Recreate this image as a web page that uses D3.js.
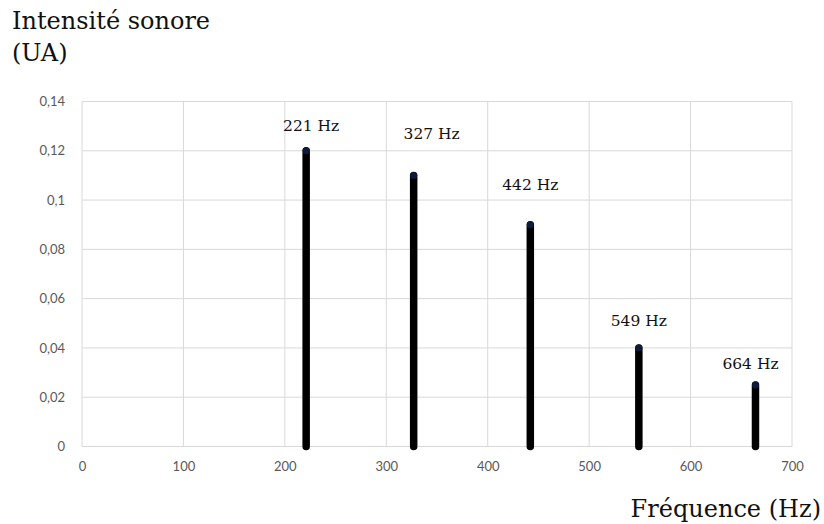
<!DOCTYPE html>
<html><head><meta charset="utf-8">
<script src="https://cdn.jsdelivr.net/npm/d3@7"></script>
<style>body{margin:0;background:#fff}svg{display:block}</style>
</head><body>
<svg id="c" width="824" height="524"></svg>
<script>
const frequencies = [221, 327, 442, 549, 664];
const intensities = [0.12, 0.11, 0.09, 0.04, 0.025];
const xTicks = [0, 100, 200, 300, 400, 500, 600, 700];
const yTicks = [0, 0.02, 0.04, 0.06, 0.08, 0.1, 0.12, 0.14];
const yTitleLines = ["Intensité sonore", "(UA)"];
const xTitle = "Fréquence (Hz)";
// label placement (layout only)
const labelDx = [5, 18, 0, 0, -5];
const labelDy = [-20, -36, -35, -22, -16];

const svg = d3.select("#c");
const m = {l: 82, r: 792, t: 101.5, b: 446.5};
const x = d3.scaleLinear().domain([0, 700]).range([m.l, m.r]);
const y = d3.scaleLinear().domain([0, 0.14]).range([m.b, m.t]);
const fmt = d => d3.format("")(+d.toFixed(2)).replace(".", ",");
const serif = "'DejaVu Serif', 'Liberation Serif', serif";

// grid
svg.append("g").selectAll("line").data(yTicks).join("line")
  .attr("x1", m.l).attr("x2", m.r).attr("y1", d => y(d)).attr("y2", d => y(d))
  .attr("stroke", "#d9d9d9").attr("stroke-width", 1);
svg.append("g").selectAll("line").data(xTicks).join("line")
  .attr("y1", m.t).attr("y2", m.b).attr("x1", d => x(d)).attr("x2", d => x(d))
  .attr("stroke", "#d9d9d9").attr("stroke-width", 1);

// axes (labels only)
const yAxis = svg.append("g").attr("transform", `translate(${m.l},0)`)
  .call(d3.axisLeft(y).tickValues(yTicks).tickFormat(fmt).tickSize(0).tickPadding(17));
const xAxis = svg.append("g").attr("transform", `translate(0,${m.b})`)
  .call(d3.axisBottom(x).tickValues(xTicks).tickSize(0).tickPadding(15));
[yAxis, xAxis].forEach(a => {
  a.select(".domain").remove();
  a.selectAll("text").attr("fill", "#595959").style("font-family", "Lato, 'Liberation Sans', Arial, sans-serif").style("font-size", "13px");
});

// stems
const data = frequencies.map((f, i) => ({f, v: intensities[i], i}));
svg.append("g").selectAll("line").data(data).join("line")
  .attr("x1", d => x(d.f)).attr("x2", d => x(d.f))
  .attr("y1", y(0)).attr("y2", d => y(d.v))
  .attr("stroke", "#000").attr("stroke-width", 7.5).attr("stroke-linecap", "round");
svg.append("g").selectAll("circle").data(data).join("circle")
  .attr("cx", d => x(d.f)).attr("cy", d => y(d.v)).attr("r", 3.5)
  .attr("fill", "#0d1a3a");

// labels
svg.append("g").selectAll("text").data(data).join("text")
  .attr("x", d => x(d.f) + labelDx[d.i]).attr("y", d => y(d.v) + labelDy[d.i])
  .attr("text-anchor", "middle")
  .style("font-family", serif).style("font-size", "15.5px")
  .attr("fill", "#111")
  .text(d => d.f + " Hz");

// titles
svg.append("g").selectAll("text").data(yTitleLines).join("text")
  .attr("x", 12).attr("y", (d, i) => 29 + i * 32)
  .style("font-family", serif).style("font-size", "24px")
  .attr("fill", "#111").text(d => d);
svg.append("text").attr("x", 821).attr("y", 517).attr("text-anchor", "end")
  .style("font-family", serif).style("font-size", "24px")
  .attr("fill", "#111").text(xTitle);
</script>
</body></html>
